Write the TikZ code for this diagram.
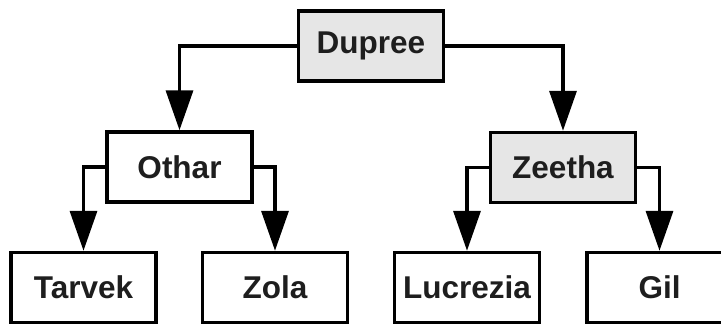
\documentclass[tikz,border=0pt]{standalone}
\usepackage{fontspec}
\setmainfont{Liberation Sans}
\usetikzlibrary{arrows.meta}
\definecolor{boxgray}{HTML}{E6E6E6}
\definecolor{txt}{HTML}{1E1E1E}
\begin{document}
\begin{tikzpicture}[x=1pt,y=-1pt,
  box/.style={draw=black, line width=3.5pt, fill=white, minimum width=145pt, minimum height=70pt,
    inner sep=0pt, text=txt, font=\fontsize{31.5}{37}\selectfont\bfseries},
  hl/.style={box, fill=boxgray},
  conn/.style={draw=black, line width=3.5pt, -{Triangle[length=40pt,width=27pt]}}]
\useasboundingbox (0,0) rectangle (721,325);
\clip (0,0) rectangle (721,325);
\node[hl] (dupree) at (371,46) {Dupree};
\node[box] (othar) at (179.5,167) {Othar};
\node[hl] (zeetha) at (563,167.5) {Zeetha};
\node[box] (tarvek) at (83.5,287.5) {Tarvek};
\node[box] (zola) at (275,287.5) {Zola};
\node[box] (lucrezia) at (467,287.5) {Lucrezia};
\node[box] (gil) at (659.5,287.5) {Gil};
\draw[conn] (dupree.west) -| (othar.north);
\draw[conn] (dupree.east) -| (zeetha.north);
\draw[conn] (othar.west) -| (tarvek.north);
\draw[conn] (othar.east) -| (zola.north);
\draw[conn] (zeetha.west) -| (lucrezia.north);
\draw[conn] (zeetha.east) -| (gil.north);
\end{tikzpicture}
\end{document}
